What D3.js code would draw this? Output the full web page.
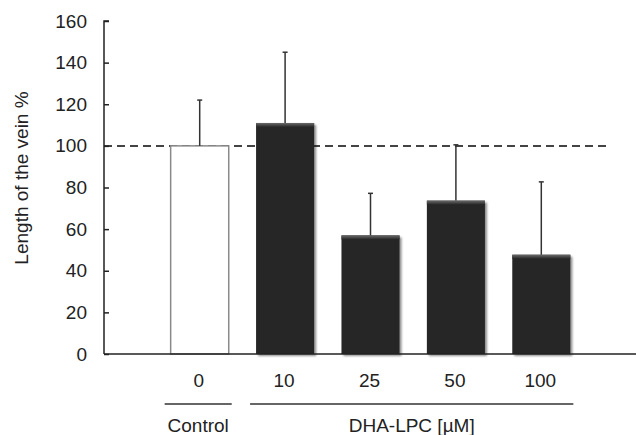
<!DOCTYPE html>
<html>
<head>
<meta charset="utf-8">
<script src="https://cdn.jsdelivr.net/npm/d3@7"></script>
<style>
  body { margin: 0; background: #fff; }
  text { font-family: "Liberation Sans", Arial, sans-serif; fill: #222; }
</style>
</head>
<body>
<div id="graph"></div>
<script>
// data
var doses = ["0", "10", "25", "50", "100"];
var means = [100, 111, 57, 73.7, 47.7];
var errUp = [122, 145, 77.2, 100.5, 82.7];
var yTicks = [0, 20, 40, 60, 80, 100, 120, 140, 160];
var groups = [
  { label: "Control", from: "0", to: "0" },
  { label: "DHA-LPC [\u00b5M]", from: "10", to: "100" }
];
var refLine = 100;

var width = 636, height = 435;
var fontSize = "19px";

var svg = d3.select("#graph").append("svg")
  .attr("width", width)
  .attr("height", height);

var defs = svg.append("defs");
var shadow = defs.append("filter").attr("id", "shadow")
  .attr("x", "-10%").attr("y", "-10%").attr("width", "130%").attr("height", "130%");
shadow.append("feGaussianBlur").attr("in", "SourceAlpha").attr("stdDeviation", 1.3);
shadow.append("feOffset").attr("dx", 1.5).attr("dy", 1.5).attr("result", "off");
shadow.append("feComponentTransfer").append("feFuncA").attr("type", "linear").attr("slope", 0.45);
var merge = shadow.append("feMerge");
merge.append("feMergeNode");
merge.append("feMergeNode").attr("in", "SourceGraphic");

var grad = defs.append("linearGradient").attr("id", "barTop")
  .attr("x1", 0).attr("y1", 0).attr("x2", 0).attr("y2", 1);
grad.append("stop").attr("offset", "0%").attr("stop-color", "#6a6a6a");
grad.append("stop").attr("offset", "100%").attr("stop-color", "#282828");

var axisX = 104, xEnd = 636;

var yScale = d3.scaleLinear().domain([0, 160]).range([354, 21]);
var xScale = d3.scaleBand().domain(doses).range([157, 584]).paddingInner(0.32).paddingOuter(0.16);

// reference line at 100 %
svg.append("line")
  .attr("x1", axisX).attr("x2", 610)
  .attr("y1", yScale(refLine)).attr("y2", yScale(refLine))
  .attr("stroke", "#444").attr("stroke-width", 2)
  .attr("stroke-dasharray", "8,5");

// bars
svg.selectAll(".bar")
  .data(doses)
  .enter()
  .append("rect")
  .attr("class", "bar")
  .attr("x", function(d) { return xScale(d); })
  .attr("y", function(d, i) { return yScale(means[i]); })
  .attr("width", xScale.bandwidth())
  .attr("height", function(d, i) { return yScale(0) - yScale(means[i]); })
  .attr("fill", function(d, i) { return i == 0 ? "#fff" : "#282828"; })
  .attr("stroke", function(d, i) { return i == 0 ? "#8a8a8a" : "none"; })
  .attr("stroke-width", 1.5)
  .attr("filter", function(d, i) { return i == 0 ? null : "url(#shadow)"; });

// lighter bevel along the top of the dark bars
svg.selectAll(".bevel")
  .data(doses.slice(1))
  .enter()
  .append("rect")
  .attr("class", "bevel")
  .attr("x", function(d) { return xScale(d); })
  .attr("y", function(d, i) { return yScale(means[i + 1]); })
  .attr("width", xScale.bandwidth())
  .attr("height", 4)
  .attr("fill", "url(#barTop)");

// error bars (upper only)
var err = svg.append("g").attr("class", "err");
doses.forEach(function(d, i) {
  var cx = xScale(d) + xScale.bandwidth() / 2;
  err.append("line")
    .attr("x1", cx).attr("x2", cx)
    .attr("y1", yScale(means[i])).attr("y2", yScale(errUp[i]))
    .attr("stroke", "#333").attr("stroke-width", 1.5);
  err.append("line")
    .attr("x1", cx - 2.5).attr("x2", cx + 2.5)
    .attr("y1", yScale(errUp[i])).attr("y2", yScale(errUp[i]))
    .attr("stroke", "#333").attr("stroke-width", 1.5);
});

// Y axis
var yAxis = svg.append("g")
  .attr("transform", "translate(" + axisX + ",0)")
  .call(d3.axisRight(yScale).tickValues(yTicks).tickSize(5));
yAxis.select(".domain").attr("stroke", "#222").attr("stroke-width", 1.5).attr("d", "M5," + yScale(160) + "H0V" + yScale(0));
yAxis.selectAll(".tick line").attr("stroke", "#222").attr("stroke-width", 1.5);
yAxis.selectAll(".tick text")
  .attr("text-anchor", "end")
  .attr("x", -17)
  .style("font-size", fontSize)
  .style("font-family", "'Liberation Sans', Arial, sans-serif")
  .attr("fill", "#222");

// X baseline
svg.append("line")
  .attr("x1", axisX).attr("x2", xEnd)
  .attr("y1", yScale(0)).attr("y2", yScale(0))
  .attr("stroke", "#222").attr("stroke-width", 1.5);

// dose labels
svg.selectAll(".dose")
  .data(doses)
  .enter()
  .append("text")
  .attr("class", "dose")
  .attr("x", function(d) { return xScale(d) + xScale.bandwidth() / 2 - 1; })
  .attr("y", 387)
  .attr("text-anchor", "middle")
  .style("font-size", fontSize)
  .text(function(d) { return d; });

// group brackets
groups.forEach(function(g) {
  var x1 = xScale(g.from) - 6;
  var x2 = xScale(g.to) + xScale.bandwidth() + 3;
  svg.append("line")
    .attr("x1", x1).attr("x2", x2)
    .attr("y1", 404).attr("y2", 404)
    .attr("stroke", "#333").attr("stroke-width", 1.3);
  svg.append("text")
    .attr("x", (x1 + x2) / 2)
    .attr("y", 432)
    .attr("text-anchor", "middle")
    .style("font-size", fontSize)
    .text(g.label);
});

// Y axis title
svg.append("text")
  .attr("transform", "translate(28,178) rotate(-90)")
  .attr("text-anchor", "middle")
  .style("font-size", fontSize)
  .text("Length of the vein %");
</script>
</body>
</html>
